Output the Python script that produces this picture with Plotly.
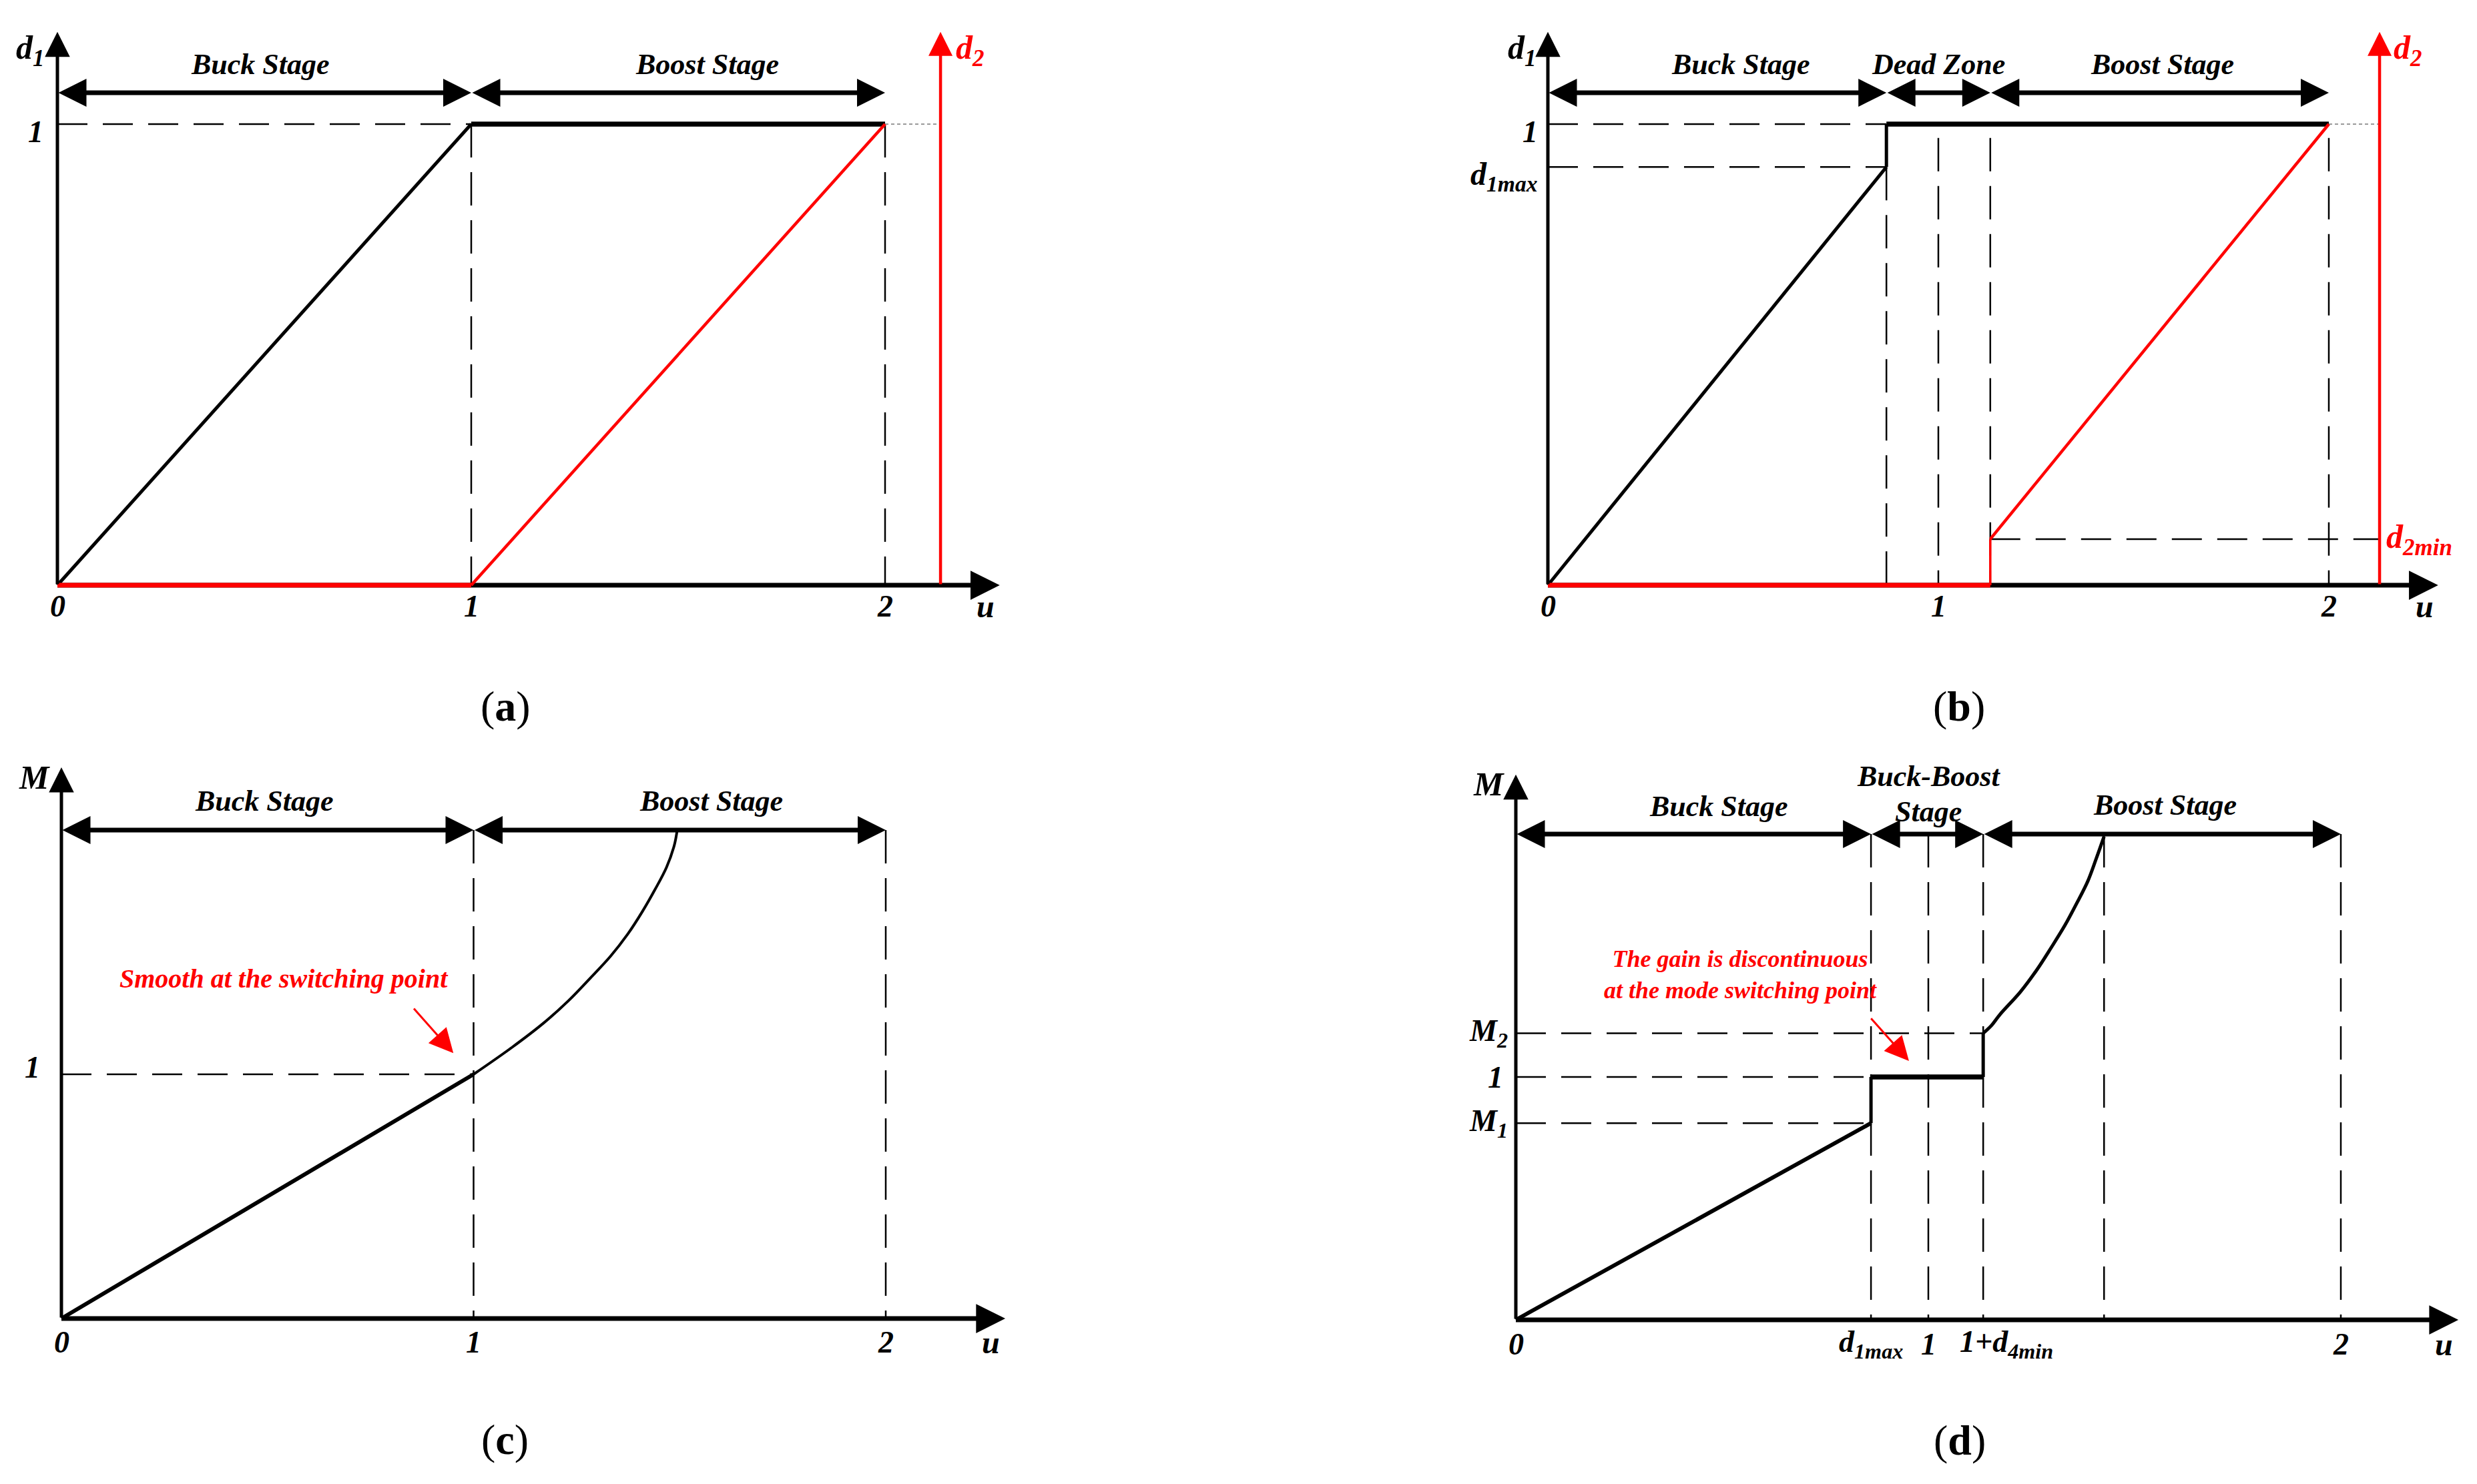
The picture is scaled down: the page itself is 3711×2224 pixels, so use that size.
import plotly.graph_objects as go

W, H = 3711, 2224          # browser window
PAD = 8                    # default body margin of the html page
FW, FH = W - 2 * PAD, H - 2 * PAD
FONT = "Liberation Serif"
RED = "#ff0000"

########## data

# (a) duty cycles without dead zone
a_d1_u = [0, 1, 2]
a_d1 = [0, 1, 1]
a_d2_u = [0, 1, 2]
a_d2 = [0, 0, 1]
a_edges = [0, 1, 2]
a_stages = ["Buck Stage", "Boost Stage"]
a_stage_u = [0.49, 1.57]
a_stage_y = [1.129, 1.129]
a_xtick_u = [0, 1, 2]
a_xtick_text = ["0", "1", "2"]

# (b) duty cycles with dead zone
b_d1max = 0.907
b_d2min = 0.1
b_d1_u = [0, 0.867, 0.867, 2]
b_d1 = [0, 0.907, 1, 1]
b_d2_u = [0, 1.133, 1.133, 2]
b_d2 = [0, 0, 0.1, 1]
b_edges = [0, 0.867, 1.133, 2]
b_stages = ["Buck Stage", "Dead Zone", "Boost Stage"]
b_stage_u = [0.494, 1.0, 1.574]
b_stage_y = [1.129, 1.129, 1.129]
b_xtick_u = [0, 1, 2]
b_xtick_text = ["0", "1", "2"]

# (c) voltage gain, smooth switching
c_buck_u = [0, 1]
c_buck_M = [0, 1]
c_boost_u = [1.0, 1.093, 1.170, 1.230, 1.282, 1.332, 1.374, 1.409, 1.440, 1.468, 1.487, 1.494]
c_boost_M = [1.0, 1.110, 1.210, 1.301, 1.392, 1.483, 1.574, 1.665, 1.756, 1.847, 1.938, 2.0]
c_edges = [0, 1, 2]
c_stages = ["Buck Stage", "Boost Stage"]
c_stage_u = [0.493, 1.577]
c_stage_y = [2.12, 2.12]
c_xtick_u = [0, 1, 2]
c_xtick_text = ["0", "1", "2"]

# (d) voltage gain, discontinuous switching
d_M1 = 0.81
d_M2 = 1.18
d_buck_u = [0, 0.861]
d_buck_M = [0, 0.81]
d_mid_u = [0.861, 0.861, 1.133, 1.133]
d_mid_M = [0.81, 1, 1, 1.18]
d_boost_u = [1.133, 1.153, 1.174, 1.223, 1.263, 1.298, 1.331, 1.360, 1.387, 1.407, 1.426]
d_boost_M = [1.18, 1.212, 1.258, 1.350, 1.441, 1.533, 1.624, 1.716, 1.808, 1.899, 1.99]
d_edges = [0, 0.861, 1.133, 2]
d_stages = ["Buck Stage", "Buck-Boost", "Stage", "Boost Stage"]
d_stage_u = [0.492, 1.0, 1.0, 1.573]
d_stage_y = [2.115, 2.239, 2.093, 2.12]
d_xtick_u = [0, 0.861, 1, 1.19, 2]
d_xtick_text = ["0", "d<sub>1max</sub>", "1", "1+d<sub>4min</sub>", "2"]

########## panel placement (pixel calibration of each sketch, window pixels)
# x0/ux : pixel of u=0 and pixels per unit, y0/uy : same for the vertical
panels = {
    "a": dict(ax=("x", "y"), x0=86, ux=620, y0=877, uy=691, box=(8, 1560, 8, 1020)),
    "b": dict(ax=("x2", "y2"), x0=2319, ux=585, y0=877, uy=691, box=(2160, 3700, 8, 1020)),
    "c": dict(ax=("x3", "y3"), x0=92, ux=617.5, y0=1976, uy=366, box=(8, 1560, 1100, 2100)),
    "d": dict(ax=("x4", "y4"), x0=2271, ux=618, y0=1978, uy=364, box=(2160, 3700, 1100, 2100)),
}

fig = go.Figure()
annos = []


def line(p, xs, ys, color="black", width=5, dash=None, shape="linear"):
    xa, ya = panels[p]["ax"]
    fig.add_trace(go.Scatter(x=xs, y=ys, mode="lines", xaxis=xa, yaxis=ya,
                             line=dict(color=color, width=width, dash=dash, shape=shape),
                             cliponaxis=False, hoverinfo="skip", showlegend=False))


def arrow(p, x0, y0, x1, y1, color="black", width=5, size=1.0, both=False):
    xa, ya = panels[p]["ax"]
    a = dict(x=x1, y=y1, ax=x0, ay=y0, xref=xa, yref=ya, axref=xa, ayref=ya,
             text="", showarrow=True, arrowhead=2, arrowsize=size, arrowwidth=width,
             arrowcolor=color, standoff=0, startstandoff=0)
    if both:
        a.update(arrowside="end+start", startarrowhead=2, startarrowsize=size)
    annos.append(a)


def text(p, x, y, s, size=44, color="black", xanchor="center", yanchor="middle"):
    xa, ya = panels[p]["ax"]
    annos.append(dict(x=x, y=y, xref=xa, yref=ya, text=s, showarrow=False,
                      xanchor=xanchor, yanchor=yanchor,
                      font=dict(family=FONT, size=size, color=color,
                                weight="bold", style="italic")))


def frame(p, ytop, xtip, ylabel, row, edges, stages, stage_u, stage_y, xtick_u, xtick_text, tick_y):
    # x axis as a line (so the red curve can sit on it), head drawn by an annotation
    line(p, [0, xtip - 0.05], [0, 0], width=7)
    arrow(p, xtip - 0.06, 0, xtip, 0, width=7, size=1.25)
    arrow(p, 0, 0, 0, ytop, width=5, size=1.5)
    text(p, -0.065, ytop - 0.04, ylabel, size=50)
    text(p, xtip - 0.035, tick_y, "u", size=48)
    for u, s in zip(xtick_u, xtick_text):
        text(p, u, tick_y, s, size=46)
    # stage arrows
    for i in range(len(edges) - 1):
        arrow(p, edges[i], row, edges[i + 1], row, width=7, size=1.2, both=True)
    for u, y, s in zip(stage_u, stage_y, stages):
        text(p, u, y, s, size=44)


VD = "50px,22px"
HD = "45px,23px"
DW = 2.5

########## (a)
frame("a", 1.2, 2.277, "d<sub>1</sub>", 1.068, a_edges, a_stages, a_stage_u, a_stage_y,
      a_xtick_u, a_xtick_text, -0.046)
for u in [1, 2]:
    line("a", [u, u], [1, 0], width=DW, dash=VD)
line("a", [0, 1], [1, 1], width=DW, dash=HD)
line("a", [2, 2.134], [1, 1], color="#999999", width=2, dash="5px,4px")
text("a", -0.052, 0.983, "1", size=46)
line("a", a_d1_u[:2], a_d1[:2], width=5)
line("a", a_d1_u[1:], a_d1[1:], width=7.5)
line("a", a_d2_u[:2], a_d2[:2], color=RED, width=7)
line("a", a_d2_u[1:], a_d2[1:], color=RED, width=4.5)
arrow("a", 2.134, 0, 2.134, 1.2, color=RED, width=4.5, size=1.6)
text("a", 2.205, 1.16, "d<sub>2</sub>", size=50, color=RED)

########## (b)
frame("b", 1.2, 2.28, "d<sub>1</sub>", 1.068, b_edges, b_stages, b_stage_u, b_stage_y,
      b_xtick_u, b_xtick_text, -0.046)
line("b", [b_edges[1], b_edges[1]], [b_d1max, 0], width=DW, dash=VD)
for u in [1, b_edges[2], 2]:
    line("b", [u, u], [0.97, 0], width=DW, dash=VD)
line("b", [0, b_edges[1]], [1, 1], width=DW, dash=HD)
line("b", [0, b_edges[1]], [b_d1max, b_d1max], width=DW, dash=HD)
line("b", [b_edges[2], 2.13], [b_d2min, b_d2min], width=DW, dash=HD)
line("b", [2, 2.13], [1, 1], color="#999999", width=2, dash="5px,4px")
text("b", -0.046, 0.983, "1", size=46)
text("b", -0.022, b_d1max - 0.02, "d<sub>1max</sub>", size=48, xanchor="right")
line("b", b_d1_u[:2], b_d1[:2], width=5)
line("b", b_d1_u[1:3], b_d1[1:3], width=5)
line("b", b_d1_u[2:], b_d1[2:], width=7.5)
line("b", b_d2_u[:2], b_d2[:2], color=RED, width=7)
line("b", b_d2_u[1:3], b_d2[1:3], color=RED, width=3.5)
line("b", b_d2_u[2:], b_d2[2:], color=RED, width=4.5)
arrow("b", 2.13, 0, 2.13, 1.2, color=RED, width=4.5, size=1.6)
text("b", 2.203, 1.16, "d<sub>2</sub>", size=50, color=RED)
text("b", 2.232, b_d2min, "d<sub>2min</sub>", size=50, color=RED)

########## (c)
frame("c", 2.257, 2.29, "M", 2.0, c_edges, c_stages, c_stage_u, c_stage_y,
      c_xtick_u, c_xtick_text, -0.098)
for u in [1, 2]:
    line("c", [u, u], [2.0, 0], width=DW, dash=VD)
line("c", [0, 1], [1, 1], width=DW, dash=HD)
text("c", -0.07, 1.03, "1", size=46)
line("c", c_buck_u, c_buck_M, width=6)
line("c", c_boost_u, c_boost_M, width=4, shape="spline")
text("c", 0.54, 1.393, "Smooth at the switching point", size=40, color=RED)
arrow("c", 0.853, 1.273, 0.951, 1.087, color=RED, width=3, size=2.4)

########## (d)
frame("d", 2.245, 2.285, "M", 2.0, d_edges, d_stages, d_stage_u, d_stage_y,
      d_xtick_u, d_xtick_text, -0.099)
for u in [d_edges[1], 1, d_edges[2], d_boost_u[-1], 2]:
    line("d", [u, u], [2.0, 0], width=DW, dash=VD)
line("d", [0, d_edges[2]], [d_M2, d_M2], width=DW, dash=HD)
line("d", [0, d_edges[1]], [1, 1], width=DW, dash=HD)
line("d", [0, d_edges[1]], [d_M1, d_M1], width=DW, dash=HD)
text("d", -0.016, d_M2, "M<sub>2</sub>", size=46, xanchor="right")
text("d", -0.05, 1.0, "1", size=46)
text("d", -0.016, d_M1, "M<sub>1</sub>", size=46, xanchor="right")
line("d", d_buck_u, d_buck_M, width=6)
line("d", d_mid_u[:2], d_mid_M[:2], width=5)
line("d", d_mid_u[1:3], d_mid_M[1:3], width=7.5)
line("d", d_mid_u[2:], d_mid_M[2:], width=5)
line("d", d_boost_u, d_boost_M, width=5, shape="spline")
text("d", 0.545, 1.423, "The gain is discontinuous<br>at the mode switching point", size=36, color=RED)
arrow("d", 0.859, 1.245, 0.953, 1.066, color=RED, width=3, size=2.4)

########## captions
for cx, cy, s in [(757, 1058, "a"), (2935, 1058, "b"), (756, 2157, "c"), (2936, 2158, "d")]:
    annos.append(dict(x=(cx - PAD) / FW, y=1 - (cy - PAD) / FH, xref="paper", yref="paper",
                      showarrow=False, text="(<b>" + s + "</b>)", xanchor="center", yanchor="middle",
                      font=dict(family=FONT, size=64, color="black")))

# axes: hidden, ranges set so that each sketch lands where it is in the window
layout_axes = {}
for i, key in enumerate(["a", "b", "c", "d"]):
    p = panels[key]
    L, R, T, B = p["box"]
    sfx = "" if i == 0 else str(i + 1)
    layout_axes["xaxis" + sfx] = dict(visible=False, domain=[(L - PAD) / FW, (R - PAD) / FW],
                                      range=[(L - p["x0"]) / p["ux"], (R - p["x0"]) / p["ux"]],
                                      anchor="y" + sfx)
    layout_axes["yaxis" + sfx] = dict(visible=False, domain=[1 - (B - PAD) / FH, 1 - (T - PAD) / FH],
                                      range=[(p["y0"] - B) / p["uy"], (p["y0"] - T) / p["uy"]],
                                      anchor="x" + sfx)

fig.update_layout(width=FW, height=FH, margin=dict(l=0, r=0, t=0, b=0),
                  paper_bgcolor="white", plot_bgcolor="white",
                  showlegend=False, annotations=annos, **layout_axes)

fig.write_html("out.html")
